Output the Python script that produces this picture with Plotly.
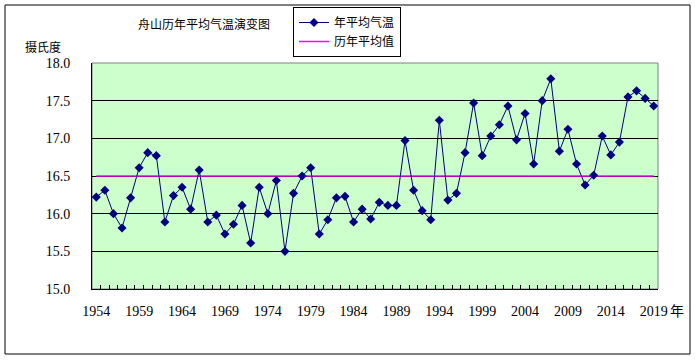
import plotly.graph_objects as go

years = list(range(1954, 2020))
temps = [16.22, 16.31, 16.00, 15.81, 16.21, 16.61, 16.81, 16.77, 15.89, 16.24,
         16.35, 16.06, 16.58, 15.89, 15.98, 15.73, 15.86, 16.11, 15.61, 16.35,
         16.00, 16.44, 15.50, 16.27, 16.50, 16.61, 15.73, 15.92, 16.21, 16.23,
         15.89, 16.06, 15.93, 16.15, 16.11, 16.11, 16.97, 16.31, 16.04, 15.92,
         17.24, 16.18, 16.27, 16.81, 17.47, 16.77, 17.03, 17.18, 17.43, 16.98,
         17.33, 16.66, 17.50, 17.79, 16.83, 17.12, 16.66, 16.38, 16.51, 17.03,
         16.78, 16.95, 17.55, 17.63, 17.53, 17.43]
avg_value = 16.50
avg_years = [1954, 2019]
avg_vals = [avg_value, avg_value]
x_tick_years = list(range(1954, 2020, 5))
x_tick_labels = [str(y) for y in x_tick_years]
y_ticks = [15.0, 15.5, 16.0, 16.5, 17.0, 17.5, 18.0]

FONT = "Liberation Serif, Noto Sans CJK SC, serif"
CJK = "Noto Sans CJK SC, sans-serif"

fig = go.Figure()
fig.add_trace(go.Scatter(
    x=avg_years, y=avg_vals, mode="lines", name="历年平均值",
    line=dict(color="#FF00FF", width=1.5), legendrank=2,
))
fig.add_trace(go.Scatter(
    x=years, y=temps, mode="lines+markers", name="年平均气温",
    line=dict(color="#000080", width=1),
    marker=dict(symbol="diamond", size=7, color="#000080"), legendrank=1,
))
# invisible helper trace so the label axis (x2) is drawn
fig.add_trace(go.Scatter(
    x=[years[0]], y=[temps[0]], xaxis="x2", mode="markers",
    marker=dict(opacity=0), showlegend=False, hoverinfo="skip",
))

W, H = 696, 360
L, R, T, B = 92, 38, 63, 71
pw, ph = W - L - R, H - T - B
xr = [1953.5, 2019.5]

fig.update_layout(
    width=W, height=H,
    margin=dict(l=L, r=R, t=T, b=B, autoexpand=False),
    paper_bgcolor="white",
    plot_bgcolor="#CCFFCC",
    font=dict(family=FONT, size=14, color="black"),
    title=dict(text="舟山历年平均气温演变图", x=204 / W, xanchor="center",
               y=1 - 25 / H, yanchor="middle",
               font=dict(family=CJK, size=12, color="black")),
    legend=dict(xref="container", yref="container",
                x=293 / W, y=1 - 7 / H, xanchor="left", yanchor="top",
                bgcolor="white", bordercolor="black", borderwidth=1,
                font=dict(family=CJK, size=12), itemwidth=30,
                tracegroupgap=0, traceorder="normal"),
    showlegend=True,
    xaxis=dict(
        range=xr, tickmode="linear", tick0=1953.5, dtick=1,
        ticks="inside", ticklen=4, tickcolor="black", tickwidth=1,
        showticklabels=False, showgrid=False,
        zeroline=False, showline=True, linecolor="black", linewidth=1,
        automargin=False,
    ),
    xaxis2=dict(
        range=xr, overlaying="x", side="bottom", anchor="y",
        tickmode="array", tickvals=x_tick_years, ticktext=x_tick_labels,
        ticks="", showgrid=False, zeroline=False, showline=False,
        automargin=False, tickfont=dict(family=FONT, size=14),
        ticklabelstandoff=12,
    ),
    yaxis=dict(
        range=[15.0, 18.0], tickmode="array", tickvals=y_ticks,
        ticktext=[f"{v:.1f}" for v in y_ticks], ticks="", automargin=False,
        showgrid=True, gridcolor="black", gridwidth=1, zeroline=False,
        showline=True, linecolor="black", linewidth=1,
        tickfont=dict(family=FONT, size=14), ticklabelstandoff=18,
    ),
    shapes=[
        dict(type="rect", xref="paper", yref="paper", x0=0, x1=1, y0=0, y1=1,
             line=dict(color="#808080", width=1), layer="below"),
        dict(type="rect", xref="paper", yref="paper",
             x0=(5 - L) / pw, x1=(690 - L) / pw,
             y0=(ph + T - 354) / ph, y1=(ph + T - 5) / ph,
             line=dict(color="black", width=1), fillcolor="rgba(0,0,0,0)"),
    ],
    annotations=[
        dict(text="摄氏度", xref="paper", yref="paper", x=(43 - L) / pw,
             y=(ph + T - 47) / ph, showarrow=False, xanchor="center", yanchor="middle",
             font=dict(family=CJK, size=12)),
        dict(text="年", xref="paper", yref="paper", x=(677 - L) / pw,
             y=(ph + T - 310) / ph, showarrow=False, xanchor="center", yanchor="middle",
             font=dict(family=CJK, size=14)),
    ],
)

fig.write_html("out.html", config={"displayModeBar": False},
               post_script="document.body.style.margin='0';")
